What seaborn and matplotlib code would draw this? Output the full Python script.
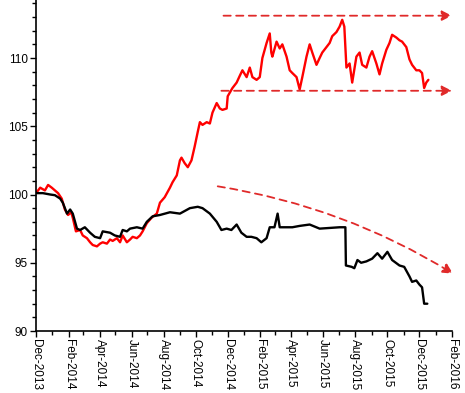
import matplotlib
matplotlib.use("Agg")
import matplotlib.pyplot as plt
import matplotlib.dates as mdates
from matplotlib.ticker import MultipleLocator
import seaborn as sns
import pandas as pd

# ---- data ----
red_dates = ["2013-12-01", "2013-12-09", "2013-12-18", "2013-12-24", "2013-12-31", "2014-01-06",
             "2014-01-12", "2014-01-19", "2014-01-25", "2014-01-31", "2014-02-06", "2014-02-09",
             "2014-02-15", "2014-02-23", "2014-02-28", "2014-03-08", "2014-03-14", "2014-03-19",
             "2014-03-27", "2014-04-02", "2014-04-07", "2014-04-15", "2014-04-21", "2014-04-26",
             "2014-05-04", "2014-05-10", "2014-05-15", "2014-05-23", "2014-05-29", "2014-06-03",
             "2014-06-11", "2014-06-17", "2014-06-22", "2014-06-30", "2014-07-09", "2014-07-19",
             "2014-07-25", "2014-08-03", "2014-08-13", "2014-08-18", "2014-08-26", "2014-09-01",
             "2014-09-04", "2014-09-10", "2014-09-16", "2014-09-23", "2014-09-29", "2014-10-05",
             "2014-10-09", "2014-10-14", "2014-10-22", "2014-10-28", "2014-11-02", "2014-11-10",
             "2014-11-16", "2014-11-21", "2014-11-29", "2014-12-01", "2014-12-10", "2014-12-18",
             "2014-12-24", "2014-12-29", "2015-01-06", "2015-01-12", "2015-01-17", "2015-01-25",
             "2015-01-31", "2015-02-05", "2015-02-13", "2015-02-19", "2015-02-22", "2015-02-24",
             "2015-03-04", "2015-03-10", "2015-03-15", "2015-03-23", "2015-03-29", "2015-04-03",
             "2015-04-11", "2015-04-17", "2015-04-22", "2015-04-30", "2015-05-06", "2015-05-11",
             "2015-05-19", "2015-05-25", "2015-05-30", "2015-06-07", "2015-06-13", "2015-06-18",
             "2015-06-26", "2015-07-02", "2015-07-07", "2015-07-11", "2015-07-15", "2015-07-21",
             "2015-07-26", "2015-08-03", "2015-08-09", "2015-08-14", "2015-08-22", "2015-08-28",
             "2015-09-02", "2015-09-10", "2015-09-16", "2015-09-21", "2015-09-29", "2015-10-05",
             "2015-10-10", "2015-10-18", "2015-10-24", "2015-10-29", "2015-11-06", "2015-11-12",
             "2015-11-17", "2015-11-25", "2015-12-01", "2015-12-06", "2015-12-10", "2015-12-14",
             "2015-12-18"]
red_values = [100.1, 100.5, 100.3, 100.7, 100.5, 100.3,
              100.1, 99.7, 98.9, 98.5, 98.7, 98.3,
              97.3, 97.4, 97.0, 96.8, 96.5, 96.3,
              96.2, 96.4, 96.5, 96.4, 96.7, 96.6,
              96.8, 96.5, 97.0, 96.5, 96.7, 96.9,
              96.8, 97.0, 97.3, 97.9, 98.3, 98.6,
              99.4, 99.8, 100.5, 100.9, 101.4, 102.5,
              102.7, 102.3, 102.0, 102.5, 103.5, 104.6,
              105.3, 105.1, 105.3, 105.2, 106.0, 106.7,
              106.3, 106.2, 106.3, 107.2, 107.8, 108.2,
              108.7, 109.1, 108.6, 109.3, 108.6, 108.4,
              108.6, 110.0, 111.1, 111.8, 110.4, 110.1,
              111.2, 110.7, 111.0, 110.1, 109.1, 108.9,
              108.6, 107.7, 108.6, 110.1, 111.0, 110.4,
              109.5, 110.0, 110.4, 110.8, 111.1, 111.6,
              111.9, 112.3, 112.8, 112.3, 109.3, 109.6,
              108.2, 110.1, 110.4, 109.5, 109.3, 110.1,
              110.5, 109.6, 108.8, 109.6, 110.6, 111.1,
              111.7, 111.5, 111.3, 111.2, 110.8, 109.9,
              109.5, 109.1, 109.1, 108.9, 107.8, 108.2,
              108.4]

black_dates = ["2013-12-01", "2013-12-14", "2013-12-28", "2014-01-06", "2014-01-16", "2014-01-21",
               "2014-01-29", "2014-02-04", "2014-02-09", "2014-02-17", "2014-02-23", "2014-03-04",
               "2014-03-14", "2014-03-23", "2014-04-02", "2014-04-07", "2014-04-21", "2014-04-30",
               "2014-05-10", "2014-05-15", "2014-05-23", "2014-05-29", "2014-06-11", "2014-06-22",
               "2014-06-30", "2014-07-11", "2014-07-25", "2014-08-13", "2014-09-01", "2014-09-20",
               "2014-10-05", "2014-10-14", "2014-10-28", "2014-11-10", "2014-11-19", "2014-11-29",
               "2014-12-08", "2014-12-18", "2014-12-27", "2015-01-06", "2015-01-15", "2015-01-25",
               "2015-02-03", "2015-02-13", "2015-02-19", "2015-02-28", "2015-03-06", "2015-03-10",
               "2015-03-23", "2015-04-03", "2015-04-17", "2015-05-06", "2015-05-25", "2015-07-02",
               "2015-07-13", "2015-07-14", "2015-07-25", "2015-07-30", "2015-08-05", "2015-08-12",
               "2015-08-22", "2015-09-02", "2015-09-12", "2015-09-21", "2015-10-01", "2015-10-10",
               "2015-10-24", "2015-11-02", "2015-11-12", "2015-11-17", "2015-11-25", "2015-12-01",
               "2015-12-06", "2015-12-10", "2015-12-16"]
black_values = [100.1, 100.1, 100.0, 99.95, 99.7, 99.4,
                98.6, 98.9, 98.6, 97.5, 97.4, 97.6,
                97.2, 96.9, 96.8, 97.3, 97.2, 97.0,
                96.9, 97.4, 97.3, 97.5, 97.6, 97.5,
                98.0, 98.4, 98.5, 98.7, 98.6, 99.0,
                99.1, 99.0, 98.6, 98.0, 97.4, 97.5,
                97.4, 97.8, 97.2, 96.9, 96.9, 96.8,
                96.5, 96.8, 97.6, 97.6, 98.6, 97.6,
                97.6, 97.6, 97.7, 97.8, 97.5, 97.6,
                97.6, 94.8, 94.7, 94.6, 95.2, 95.0,
                95.1, 95.3, 95.7, 95.3, 95.8, 95.2,
                94.8, 94.7, 94.0, 93.6, 93.7, 93.4,
                93.2, 92.0, 92.0]

# dashed trend arrows: (start date, start value, end date, end value)
arrow_top = ("2014-11-23", 113.1, "2016-02-01", 113.1)
arrow_bottom = ("2014-11-19", 107.6, "2016-02-01", 107.6)
arrow_diag = ("2014-11-12", 100.6, "2016-02-03", 94.2)

# ---- plotting ----
sns.set_style("white")
plt.rcParams["font.family"] = ["Liberation Sans", "DejaVu Sans"]

fig = plt.figure(figsize=(4.65, 3.93), dpi=100)
ax = fig.add_axes([36 / 465, 1 - 331 / 393, (452 - 36) / 465, 331 / 393])

red_df = pd.DataFrame({"date": pd.to_datetime(red_dates), "value": red_values})
black_df = pd.DataFrame({"date": pd.to_datetime(black_dates), "value": black_values})

sns.lineplot(data=red_df, x="date", y="value", ax=ax, color="#ff0000", linewidth=1.7)
sns.lineplot(data=black_df, x="date", y="value", ax=ax, color="black", linewidth=1.7)

dash_color = "#e02a2a"
for (d0, v0, d1, v1), rad in [(arrow_top, 0.0), (arrow_bottom, 0.0), (arrow_diag, -0.1)]:
    ax.annotate("", xy=(mdates.date2num(pd.Timestamp(d1)), v1),
                xytext=(mdates.date2num(pd.Timestamp(d0)), v0),
                annotation_clip=False,
                arrowprops=dict(arrowstyle="-|>,head_length=0.6,head_width=0.3",
                                color=dash_color, lw=1.3, linestyle=(0, (4, 3)),
                                shrinkA=0, shrinkB=0, mutation_scale=10,
                                connectionstyle=f"arc3,rad={rad}"))

ax.set_xlim(pd.Timestamp("2013-12-01"), pd.Timestamp("2016-02-01"))
ax.set_ylim(90, 114.25)

ax.xaxis.set_major_locator(mdates.MonthLocator(bymonth=[2, 4, 6, 8, 10, 12]))
ax.xaxis.set_minor_locator(mdates.MonthLocator())
ax.xaxis.set_major_formatter(mdates.DateFormatter("%b-%Y"))
ax.yaxis.set_major_locator(MultipleLocator(5))
ax.yaxis.set_minor_locator(MultipleLocator(1))

ax.tick_params(axis="both", which="major", direction="out", length=4, width=1,
               color="black", labelsize=8.5, labelcolor="black", pad=2)
ax.tick_params(axis="both", which="minor", direction="out", length=3, width=1, color="black")
ax.tick_params(axis="x", which="both", bottom=True)
ax.tick_params(axis="y", which="both", left=True)
for lab in ax.get_xticklabels():
    lab.set_rotation(270)
    lab.set_ha("center")
    lab.set_va("top")

ax.set_xlabel("")
ax.set_ylabel("")
for s in ["top", "right"]:
    ax.spines[s].set_visible(False)
for s in ["left", "bottom"]:
    ax.spines[s].set_color("black")
    ax.spines[s].set_linewidth(1.2)

fig.savefig("out.png", dpi=100)
